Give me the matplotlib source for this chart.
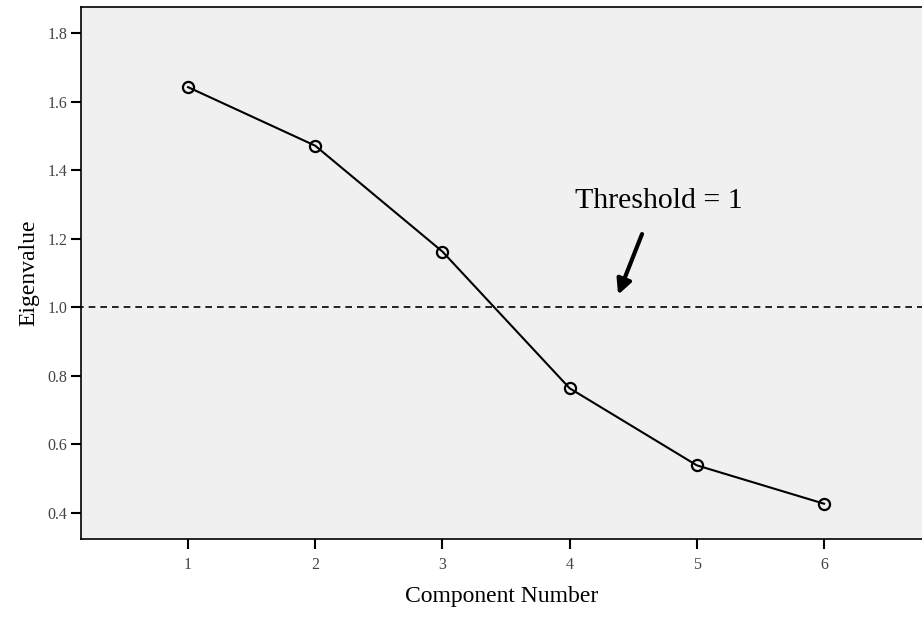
import matplotlib
matplotlib.use("Agg")
import matplotlib.pyplot as plt

components = [1, 2, 3, 4, 5, 6]
eigenvalues = [1.642, 1.471, 1.162, 0.763, 0.538, 0.426]
threshold = 1.0
y_ticks = [0.4, 0.6, 0.8, 1.0, 1.2, 1.4, 1.6, 1.8]


def main():
    plt.rcParams['font.family'] = ['Liberation Serif', 'DejaVu Serif']

    fig = plt.figure(figsize=(9.22, 6.17), dpi=100)
    ax = fig.add_axes([0.0879, 0.1264, 0.9121, 0.8623])
    ax.set_facecolor('#f0f0f0')

    ax.plot(components, eigenvalues, color='black', linewidth=1.5,
            marker='o', markersize=8, markerfacecolor='none',
            markeredgewidth=1.6, markeredgecolor='black')
    ax.axhline(threshold, xmin=-0.005, color='black', linestyle=(0, (4, 3)),
               linewidth=1.2, clip_on=False)

    ax.annotate('', xy=(4.373, 1.0285), xytext=(4.577, 1.2207),
                arrowprops=dict(arrowstyle='-|>', color='black', lw=3,
                                mutation_scale=22))
    ax.text(4.04, 1.311, 'Threshold = 1', fontsize=21.5, va='center', ha='left')

    ax.set_xlim(0.159, 6.77)
    ax.set_ylim(0.323, 1.876)
    ax.set_xticks(components)
    ax.set_yticks(y_ticks)
    ax.set_yticklabels([f'{v:.1f}' for v in y_ticks])

    ax.spines['right'].set_visible(False)
    for s in ['left', 'top', 'bottom']:
        ax.spines[s].set_linewidth(1.2)
    ax.tick_params(axis='both', length=7, width=1.5, colors='black',
                   labelcolor='#444444', labelsize=11.5)
    ax.tick_params(axis='x', pad=6)
    ax.tick_params(axis='y', pad=3)

    ax.set_xlabel('Component Number', fontsize=17, labelpad=9)
    ax.set_ylabel('Eigenvalue', fontsize=17, labelpad=6)

    fig.savefig('out.png', dpi=100)


if __name__ == "__main__":
    main()
